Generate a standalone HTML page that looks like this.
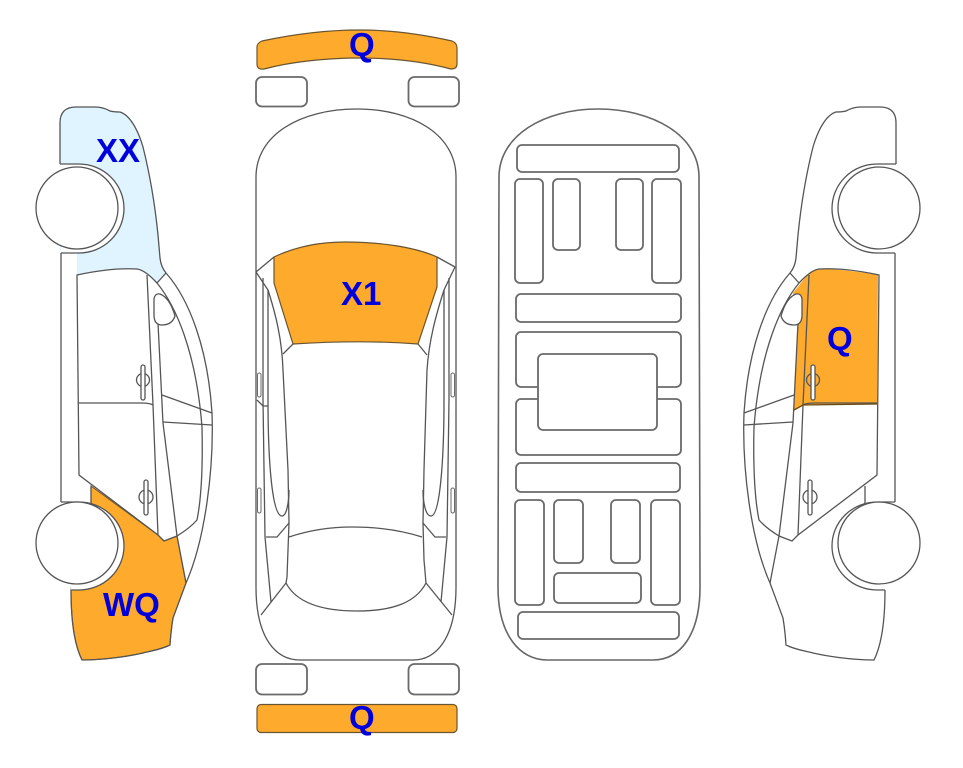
<!DOCTYPE html>
<html><head><meta charset="utf-8"><style>
html,body{margin:0;padding:0;background:#fff}
svg{display:block}
.l{fill:none;stroke:#555;stroke-width:1.3}
.r{fill:#fff;stroke:#6a6a6a;stroke-width:1.8}
.o{fill:#FEAA2C;stroke:#6b5530;stroke-width:1.2}
text{font-family:"Liberation Sans",sans-serif;font-weight:bold;fill:#0000DC;font-size:33px}
</style></head><body>
<svg width="963" height="768" viewBox="0 0 963 768" xmlns="http://www.w3.org/2000/svg">
<defs>
<g id="side">
<path class="l" d="M60,164V123Q60,107 76,107H95Q103,107 110,111Q114,112 120,112C130,115 138,130 143,147C150,175 155,205 158,235L160,258Q161,267 166,273C190,300 208,350 212,413C214,470 205,540 186,583L173,618Q171,630 170,645C160,650 150,651 143,653C130,656 105,660 82,660C72,640 71,610 71,590"/>
<path class="l" d="M166,273L157,283C175,305 196,350 202,427C203,470 201,500 197,520Q190,528 177,536L164,541L158,535L79,475L77,275C100,270 120,268 137,269Q145,270 157,283"/>
<path class="l" d="M61,253V502M91,486V505"/>
<path class="l" d="M147,275L153,405L158,535M158,323L163,423L177,536L186,583"/>
<path class="l" d="M79,403L140,403Q150,403 153,405M162,395L212,413M163,422L212,425"/>
<path class="l" style="fill:#fff" d="M154,299Q155,293 160,294Q170,298 175,316Q172,325 162,325Q154,325 154,315Z"/>
<circle class="l" cx="143" cy="380" r="6.5"/>
<rect class="l" style="fill:#fff" x="141" y="365" width="4" height="35" rx="2"/>
<circle class="l" cx="146" cy="497" r="7"/>
<rect class="l" style="fill:#fff" x="144" y="480" width="4" height="35" rx="2"/>
<path class="l" style="fill:#fff" d="M60,164H79A45,44.5 0 0 1 79,253H61"/>
<path class="l" style="fill:#fff" d="M61,502H79A45,44 0 0 1 79,590H71"/>
<circle class="l" style="fill:#fff" cx="77" cy="208" r="41"/>
<circle class="l" style="fill:#fff" cx="77" cy="543" r="41"/>
</g>
</defs>

<!-- left view fills -->
<path fill="#DFF4FE" d="M60,164V123Q60,107 76,107H95Q103,107 110,111Q114,112 120,112C130,115 138,130 143,147C150,175 155,205 158,235L160,258Q161,267 166,273L157,283Q145,270 137,269C120,268 100,270 77,275V250H60Z"/>
<path fill="#FEAA2C" stroke="#6b5530" stroke-width="1" d="M91,486L158,535L164,541L177,536L186,583L173,618Q171,630 170,645C160,650 150,651 143,653C130,656 105,660 82,660C72,640 71,610 71,585V540H91Z"/>
<use href="#side"/>
<!-- right view fill + lines -->
<path fill="#FEAA2C" d="M808,274Q814,269 819,269C840,269 860,272 878,275L877,404L803,405L794,410L798,325L793,293Z"/>
<use href="#side" transform="matrix(-1 0 0 1 956 0)"/>
<path fill="none" stroke="#6b4a10" stroke-width="1.3" d="M794,410L803,405L877,404"/>

<!-- centre view -->
<path class="o" d="M262,41C290,35 325,30 360,30C395,30 425,35 452,41Q457,43 457,48V64Q457,69 451,69C425,62 395,58 360,58C325,58 290,62 264,69Q257,70 257,64V47Q257,43 262,41Z"/>
<rect class="r" x="256" y="77" width="51" height="29.500" rx="6"/>
<rect class="r" x="408.500" y="77" width="50.500" height="29.500" rx="6"/>
<path class="l" d="M256,177C256,135 300,109 357,109C413,109 456,135 456,177V587C456,640 435,660 413,660H300C277,660 256,640 256,587Z"/>
<path class="o" d="M274,257C295,247 320,242 345,242C380,242 415,247 437,257V287L418,344C380,341 340,341 293,344L274,283Z"/>
<path class="l" d="M256,272L274,257M437,257L455,267M256,272L268,290C276,315 282,340 283,370L288,470L289,523L287,577L286,583C296,602 320,611 357,611C394,611 416,602 426,583L424,560L423,523L424,470L427,370C429,340 436,315 444,290L455,267"/>
<path class="l" d="M293,344L283,354M418,344L427,355"/>
<path class="l" d="M263,278V400L265,537L271,602M268,290V400C268,460 272,516 282,516C287,516 289,500 289,490"/>
<path class="l" d="M449,278V400L447,537L441,602M444,290V400C444,460 440,516 431,516C425,516 423,500 423,490"/>
<path class="l" d="M257,400L263,406H268M266,537H277L289,523M446,537H435L423,523"/>
<path class="l" d="M289,537C310,530 330,527 352,527C375,527 400,530 422,537"/>
<path class="l" d="M286,583L261,615M426,583L452,615"/>
<rect class="r" style="stroke-width:1" x="257.500" y="373" width="3.500" height="24" rx="1.700"/>
<rect class="r" style="stroke-width:1" x="257.500" y="488" width="3.500" height="25" rx="1.700"/>
<rect class="r" style="stroke-width:1" x="451" y="373" width="3.500" height="24" rx="1.700"/>
<rect class="r" style="stroke-width:1" x="451" y="488" width="3.500" height="25" rx="1.700"/>
<rect class="r" x="256" y="664" width="51" height="30.500" rx="6"/>
<rect class="r" x="408.500" y="664" width="50.500" height="30.500" rx="6"/>
<rect class="o" x="257" y="704.500" width="200" height="28" rx="4"/>

<!-- underbody -->
<path class="l" style="stroke:#666;stroke-width:1.6" d="M499,177C499,135 545,109 598,109C652,109 699,135 699,177L700,587C700,635 680,660 653,660H547C520,660 498,635 498,587Z"/>
<g style="fill:none;stroke:#6a6a6a;stroke-width:1.800">
<rect x="517" y="145" width="162" height="27" rx="5"/>
<rect x="515" y="179" width="28" height="104" rx="5"/>
<rect x="553" y="179" width="27" height="71" rx="5"/>
<rect x="616" y="179" width="27" height="71" rx="5"/>
<rect x="652" y="179" width="29" height="104" rx="5"/>
<rect x="516" y="294" width="165" height="28" rx="5"/>
<rect x="516" y="332" width="165" height="55" rx="5"/>
<rect x="516" y="399" width="165" height="56" rx="5"/>
<rect x="538" y="354" width="119" height="76" rx="5" style="fill:#fff"/>
<rect x="516" y="463" width="164" height="29" rx="5"/>
<rect x="515" y="500" width="29" height="105" rx="5"/>
<rect x="554" y="500" width="29" height="63" rx="5"/>
<rect x="611" y="500" width="29" height="63" rx="5"/>
<rect x="651" y="500" width="29" height="105" rx="5"/>
<rect x="554" y="573" width="87" height="30" rx="5"/>
<rect x="518" y="612" width="161" height="27" rx="5"/>
</g>

<text x="96" y="162">XX</text>
<text x="349" y="56">Q</text>
<text x="341" y="305">X1</text>
<text x="103" y="616">WQ</text>
<text x="827" y="350">Q</text>
<text x="349" y="729">Q</text>
</svg>
</body></html>
